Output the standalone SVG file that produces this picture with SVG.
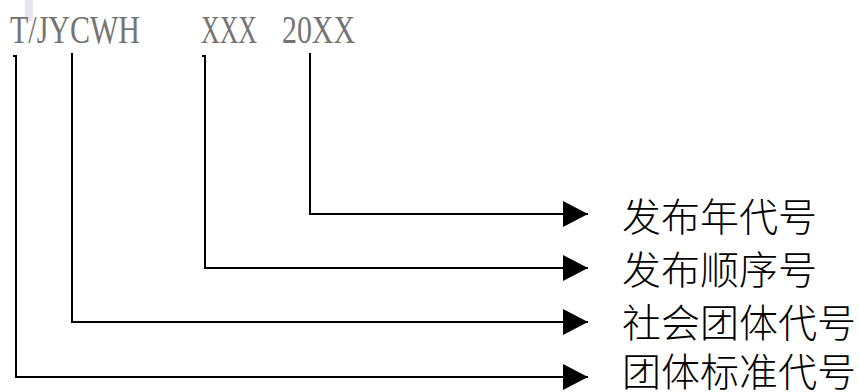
<svg xmlns="http://www.w3.org/2000/svg" width="859" height="392" viewBox="0 0 859 392">
<style>
.code{font-family:"Liberation Serif","Noto Serif",serif;font-size:41px;fill:#747474}
.lbl{font-family:"Noto Sans CJK SC","Noto Sans",sans-serif;font-size:39px;font-weight:300;fill:#000}
.ln{fill:none;stroke:#000;stroke-width:2}
</style>
<defs>
<marker id="arr" markerUnits="userSpaceOnUse" markerWidth="26" markerHeight="26" refX="25" refY="13" orient="auto">
<path d="M0 0 L25 13 L0 26 Z" fill="#000"/>
</marker>
</defs>
<rect x="25" y="0" width="8" height="21" fill="#e6e6ee"/>
<g id="code">
<text class="code" x="10" y="43" textLength="130" lengthAdjust="spacingAndGlyphs">T/JYCWH</text>
<text class="code" x="201" y="43" textLength="56" lengthAdjust="spacingAndGlyphs">XXX</text>
<text class="code" x="282" y="43" textLength="73" lengthAdjust="spacingAndGlyphs">20XX</text>
</g>
<g id="connectors">
<path class="ln" d="M310 53 V214 H588" marker-end="url(#arr)"/>
<path class="ln" d="M202 56 H205 V268 H588" marker-end="url(#arr)"/>
<path class="ln" d="M72 53 V322 H588" marker-end="url(#arr)"/>
<path class="ln" d="M13 56 H16 V377 H588" marker-end="url(#arr)"/>
</g>
<g id="n1"><text class="lbl" x="622" y="231">发布年代号</text></g>
<g id="n2"><text class="lbl" x="622" y="284">发布顺序号</text></g>
<g id="n3"><text class="lbl" x="622" y="337">社会团体代号</text></g>
<g id="n4"><text class="lbl" x="622" y="386">团体标准代号</text></g>
</svg>
